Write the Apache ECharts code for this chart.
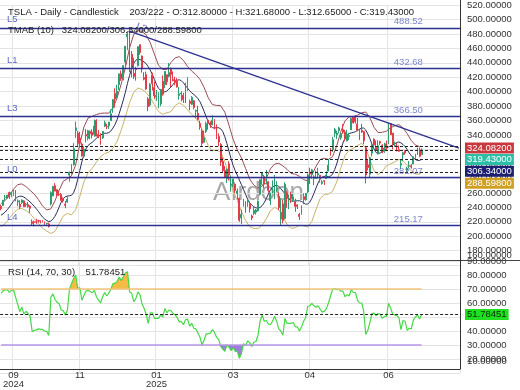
<!DOCTYPE html>
<html><head><meta charset="utf-8">
<script src="https://cdn.jsdelivr.net/npm/echarts@6/dist/echarts.min.js"></script>
<style>html,body{margin:0;padding:0;background:#fff}#c{width:520px;height:390px}</style>
</head><body><div id="c"></div>
<script>
const opens = [241.52,242.61,254.08,252.54,260.60,257.38,259.04,262.67,247.55,244.48,
246.69,249.00,243.56,243.82,241.81,220.13,220.13,220.01,221.40,221.59,
220.71,218.90,217.31,217.13,244.68,256.01,270.00,264.51,258.04,257.99,
252.04,244.56,247.34,284.67,288.89,299.14,346.30,342.74,335.85,327.69,
310.57,340.73,335.50,345.00,343.81,341.09,360.14,341.00,341.80,336.08,
352.38,351.80,353.00,359.87,377.42,397.61,392.68,409.70,424.84,420.00,
441.09,475.90,466.50,451.88,425.51,431.00,435.90,465.16,449.52,419.40,
423.79,390.10,381.48,423.20,405.83,392.95,391.40,383.21,414.34,409.90,
423.49,421.50,432.64,416.81,416.06,414.45,394.80,396.91,395.21,410.78,
401.53,386.68,382.63,387.51,373.03,370.19,356.21,345.80,329.94,345.00,
360.62,355.01,354.00,361.51,353.44,338.14,327.02,303.71,291.16,279.50,
300.34,270.93,272.92,272.06,259.32,252.54,225.31,247.22,248.13,247.31,
245.06,228.16,231.61,233.35,234.99,258.08,283.60,282.66,272.48,275.58,
249.31,263.80,254.60,265.29,255.38,223.78,245.00,224.69,260.00,251.84,
258.36,249.91,247.61,243.47,230.26,230.96,254.86,250.50,261.69,288.98,
285.50,279.90,280.01,284.90,284.57,273.11,276.88,279.63,290.21,321.99,
320.00,342.50,340.34,346.24,336.30,347.87,344.43,331.90,337.92,347.35,
364.84,365.29,355.52,343.50,346.60,345.10,322.49,298.83,285.96,314.94,
334.40,323.08,313.97,331.29,326.09,317.31,327.95,327.54,356.17,342.70,
324.61,324.51,319.90,298.46,312.63,317.99,291.37,297.00,297.55,300.05,
307.89,317.73,319.68,312.80];
const highs = [243.99,250.00,257.19,257.05,261.75,260.70,264.86,263.98,251.16,249.79,
250.96,249.83,246.21,247.43,242.79,223.34,221.91,224.26,222.82,222.08,
222.28,220.48,218.22,218.72,262.12,269.49,273.54,264.98,263.35,259.75,
254.00,248.90,255.28,289.59,299.75,328.71,358.64,345.84,344.60,329.98,
324.68,348.55,347.38,346.60,347.99,361.53,361.93,346.96,342.55,345.45,
360.00,355.69,358.10,375.43,389.49,404.80,409.73,424.88,429.30,436.30,
463.19,483.99,488.54,456.36,447.08,434.51,462.78,465.33,450.00,427.00,
427.93,392.73,411.88,426.43,414.33,402.50,399.28,403.79,422.64,428.15,
424.00,439.74,433.20,428.00,420.73,418.88,406.69,400.59,398.59,412.50,
419.99,389.17,394.00,388.39,375.40,380.55,360.00,349.37,346.40,358.69,
362.00,359.10,367.34,362.30,354.98,342.40,328.89,309.00,297.23,293.88,
303.94,284.35,279.55,272.65,266.25,253.37,237.06,251.84,248.29,251.58,
245.40,230.10,241.41,238.00,249.52,278.64,288.20,284.90,291.85,276.10,
260.56,277.45,284.99,276.30,261.00,252.00,250.44,274.69,262.49,257.74,
261.80,258.75,251.97,244.34,232.21,242.79,259.45,259.54,286.85,294.86,
293.32,284.45,290.87,294.78,284.85,277.73,277.92,289.80,307.04,322.21,
337.59,350.00,346.14,351.62,343.00,354.99,347.35,347.27,343.18,363.79,
365.00,367.71,363.68,348.02,355.40,345.60,324.55,305.50,309.83,327.83,
335.50,332.56,332.99,332.05,327.26,329.32,332.36,357.54,356.26,343.00,
331.05,329.34,325.58,305.89,316.83,318.45,296.15,304.05,300.15,310.48,
314.09,322.60,322.80,321.68];
const lows = [235.92,241.92,249.05,252.28,251.53,254.12,255.77,248.53,241.50,237.81,
244.58,240.70,240.56,239.51,232.34,214.38,213.74,217.12,218.93,217.90,
219.23,215.73,215.26,212.11,242.65,255.32,262.24,255.51,255.82,249.25,
246.63,238.88,246.21,275.62,285.52,297.66,336.00,323.31,322.50,310.37,
309.22,330.01,332.75,334.30,335.28,337.70,338.20,335.66,326.59,334.65,
351.15,348.20,348.60,359.50,370.80,378.01,390.85,402.38,415.00,415.71,
436.15,457.51,427.01,420.02,417.64,415.41,435.14,451.02,426.50,415.75,
402.54,373.04,379.45,401.70,390.00,387.40,377.29,380.07,394.54,405.21,
409.13,419.75,406.31,414.59,408.95,405.78,389.00,386.50,384.48,384.41,
401.34,374.36,381.40,375.53,363.18,360.34,347.50,325.10,329.12,342.85,
347.50,350.02,353.67,348.00,334.42,324.70,297.25,288.04,280.88,273.60,
277.30,261.84,267.71,260.02,250.73,220.00,217.02,241.10,232.60,240.73,
232.80,222.28,229.20,230.05,234.55,256.33,271.28,266.51,271.82,260.57,
243.36,259.25,251.27,261.51,236.00,214.25,217.80,223.88,239.33,237.57,
245.93,247.54,233.89,237.68,222.79,229.85,244.43,249.20,259.63,272.42,
279.47,270.78,279.81,279.81,274.40,271.35,271.00,279.41,290.00,311.50,
316.80,337.00,334.72,342.33,333.37,341.63,331.39,331.39,333.21,347.32,
355.91,356.00,345.29,333.33,343.04,327.33,273.21,291.14,281.85,310.67,
322.50,316.86,313.30,326.41,314.74,315.45,317.78,327.48,340.44,320.40,
323.61,317.50,316.60,293.21,303.82,312.76,288.77,294.35,293.55,300.00,
305.65,312.67,309.50,312.65];
const closes = [238.25,250.00,254.27,257.02,254.22,260.46,261.63,258.02,249.02,240.66,
250.08,240.83,244.50,241.05,238.77,217.80,219.16,219.57,221.33,220.89,
220.70,218.85,217.97,213.65,260.48,269.19,262.51,259.52,257.55,249.85,
248.98,242.84,251.44,288.53,296.91,321.22,350.00,328.49,330.24,311.18,
320.72,338.74,346.00,342.03,339.64,352.56,338.59,338.23,332.89,345.16,
357.09,351.42,357.93,369.49,389.22,389.79,400.99,424.77,418.10,436.23,
463.02,479.86,440.13,436.17,421.06,430.60,462.28,454.13,431.66,417.41,
403.84,379.28,410.44,411.05,394.36,394.94,394.74,403.31,396.36,428.22,
413.82,426.50,424.07,415.11,412.38,406.58,397.15,398.09,389.10,400.28,
404.60,383.68,392.21,378.17,374.32,361.62,350.73,328.50,336.51,355.94,
355.84,354.11,360.56,354.40,337.80,330.53,302.80,290.80,281.95,292.98,
284.65,272.04,279.10,263.45,262.67,222.15,230.58,248.09,240.68,249.98,
238.01,225.31,235.86,236.26,248.71,278.39,288.14,272.06,273.13,263.55,
259.16,268.46,282.76,267.28,239.43,233.29,221.86,272.20,252.40,252.31,
252.35,254.11,241.55,241.37,227.50,237.97,250.74,259.51,284.95,285.88,
292.03,282.16,280.52,287.21,280.26,275.35,276.22,284.82,298.26,318.38,
334.07,347.68,342.82,349.98,342.09,343.82,334.62,341.04,339.34,362.89,
356.90,358.43,346.46,342.69,344.27,332.05,284.70,295.14,308.58,326.09,
326.43,319.11,325.31,329.13,316.35,322.05,322.16,348.68,340.47,327.55,
325.78,323.63,317.66,300.71,315.65,315.35,293.94,297.81,295.88,309.87,
313.51,316.90,310.78,319.43];

const tmabMid = [229.2,231.1,233.5,236.8,240.5,244.5,248.6,252.1,254.4,255.3,
255.5,254.3,252.3,249.9,247.6,244.8,241.5,238.1,234.5,230.5,
226.7,224.0,221.9,220.4,220.9,223.6,227.7,233.2,240.2,247.1,
252.0,254.7,255.6,256.1,256.7,260.1,267.7,278.5,291.0,303.0,
313.3,320.9,325.6,328.0,330.1,332.8,335.4,338.2,340.1,341.7,
342.5,342.6,343.4,345.7,349.7,354.7,361.2,369.5,378.8,388.5,
399.1,411.3,422.3,431.7,438.9,443.5,445.1,444.5,443.2,441.3,
438.9,434.8,429.9,423.8,417.1,410.2,404.7,401.8,399.8,399.7,
400.9,403.6,406.4,410.0,413.7,415.9,416.6,415.3,412.4,408.5,
405.1,401.4,398.6,396.3,393.9,390.6,386.2,380.1,372.9,365.4,
358.6,353.3,350.2,349.8,350.1,350.2,348.8,345.0,337.7,328.3,
318.0,307.5,298.3,290.8,284.7,278.0,271.5,265.0,258.1,251.4,
246.3,243.1,240.8,239.4,238.7,239.8,242.4,246.4,252.1,258.4,
264.2,267.9,269.9,270.5,269.0,266.2,262.5,259.0,254.7,251.1,
248.9,248.6,248.9,249.1,249.1,248.2,246.5,244.4,244.7,247.3,
252.6,259.3,266.8,273.8,279.2,282.0,282.8,282.8,282.4,283.2,
286.1,292.1,300.1,309.8,319.9,329.1,335.8,340.1,342.1,343.1,
343.7,344.7,346.4,348.2,349.8,349.8,347.0,341.7,335.1,327.7,
320.8,315.9,314.4,315.3,316.9,319.1,321.5,323.6,325.1,326.3,
327.9,329.8,330.5,329.2,327.0,324.1,320.1,315.3,311.4,308.6,
306.2,304.9,305.0,306.34];

const bandIdx = [0,2,4,6,8,10,12,14,16,18,20,22,24,26,28,30,32,34,36,38,
40,42,44,46,48,50,52,54,56,58,60,62,64,66,68,70,72,74,76,78,
80,82,84,86,88,90,92,94,96,98,100,102,104,106,108,110,112,114,116,118,
120,122,124,126,128,130,132,134,136,138,140,142,144,146,148,150,152,154,156,158,
160,162,164,166,168,170,172,174,176,178,180,182,184,186,188,190,192,194,196,198,
200,202,203];
const tmabUpper = [245.2,249.5,256.5,265.1,271.4,272.5,268.8,263.6,258.5,251.0,
242.2,236.4,237.9,248.7,263.2,276.0,279.6,283.7,298.7,327.0,
351.3,363.6,366.1,368.4,370.1,370.5,370.4,377.7,391.2,410.8,
433.1,460.3,478.9,485.1,483.2,478.9,467.9,452.1,436.7,430.8,
430.9,440.4,446.7,448.6,443.4,435.1,428.6,423.9,417.2,405.9,
391.6,382.2,381.1,380.8,371.7,354.0,334.3,319.7,308.5,294.1,
279.3,270.8,266.7,269.4,280.1,293.2,299.9,301.0,297.5,292.7,
286.9,285.9,283.1,278.5,276.7,284.6,296.8,306.2,307.8,306.4,
310.1,325.1,344.9,359.8,365.1,365.7,367.4,370.8,372.0,364.1,
350.8,343.4,343.9,345.5,350.1,352.9,354.5,350.0,342.1,332.4,
326.2,324.0,324.082];
const tmabLower = [213.2,217.5,224.5,232.1,237.4,238.5,235.8,231.6,224.5,218.0,
211.2,207.4,203.9,206.7,217.2,228.0,231.6,229.7,236.7,255.0,
275.3,287.6,294.1,302.4,310.1,314.5,316.4,321.7,331.2,346.8,
365.1,384.3,398.9,405.1,403.2,398.9,391.9,382.1,372.7,368.8,
370.9,372.4,380.7,384.6,381.4,375.1,368.6,363.9,355.2,339.9,
325.6,318.2,319.1,316.8,303.7,282.0,262.3,249.7,234.5,222.1,
213.3,210.8,210.7,215.4,224.1,235.2,239.9,237.0,227.5,216.7,
210.9,211.9,215.1,214.5,212.7,220.6,236.8,252.2,257.8,258.4,
262.1,275.1,294.9,311.8,319.1,321.7,325.4,328.8,322.0,306.1,
290.8,285.4,289.9,297.5,300.1,302.9,306.5,304.0,298.1,290.4,
286.2,286.0,288.598];

const rsi = [66.9,68.8,69.3,69.5,67.5,69.0,69.3,64.0,59.0,53.8,
57.0,52.0,54.0,52.5,50.5,39.5,40.5,40.8,41.5,41.2,
41.1,40.0,39.6,36.9,64.0,66.5,62.5,60.5,59.5,55.0,
54.5,51.4,55.0,70.0,74.0,77.5,80.0,70.5,70.8,62.0,
65.5,68.5,69.0,68.2,67.3,69.0,64.5,62.0,60.0,64.5,
67.5,65.0,67.0,70.0,74.0,74.0,75.5,78.5,76.0,78.8,
81.5,82.4,68.0,67.0,61.0,63.0,68.0,66.0,59.5,56.2,
52.0,45.5,53.0,53.0,49.0,49.0,49.0,51.5,50.0,56.0,
53.0,55.0,54.5,52.5,51.5,49.5,46.5,46.8,44.5,48.0,
48.5,43.5,45.5,42.0,41.5,38.5,35.5,30.0,33.5,38.0,
38.0,38.5,41.0,39.0,35.5,34.0,29.0,27.0,25.5,30.0,
28.5,26.0,28.0,25.5,25.5,20.5,24.0,31.0,29.5,33.0,
31.5,29.0,32.0,32.5,37.0,47.0,51.5,47.0,47.5,45.0,
44.5,47.0,50.5,47.0,41.5,40.0,37.0,49.0,45.5,45.5,
45.5,46.0,43.0,43.0,40.0,43.0,47.0,49.5,57.5,58.0,
59.8,58.0,57.0,58.0,55.5,53.5,54.0,56.0,60.0,65.0,
69.8,70.3,69.5,69.9,68.5,68.5,64.5,66.0,65.0,69.6,
67.5,67.5,62.0,60.0,60.0,54.5,37.5,40.5,46.0,52.5,
52.8,51.0,52.5,52.0,49.0,50.5,50.5,59.8,56.5,52.0,
51.5,51.0,49.5,41.0,47.5,47.0,40.5,42.0,41.5,48.0,
50.0,51.5,48.5,51.78451];

const tickIdx = [6, 38, 75, 112, 149, 187];
const tickLabels = ['09\n2024', '11', '01\n2025', '03', '04', '06'];
const levelNames = ['L5', 'L1', 'L3', 'L0', 'L4'];
const levelValues = [488.52, 432.68, 366.50, 282.07, 215.17];
const trendName = 'L2';
const trendStart = [62, 484];
const trendEnd = [221, 322];
const tmabLast = [324.082, 306.34, 288.598];
const lastClose = 319.43;
const rsiLast = 51.78451;
const rsiBands = [70, 30];
const totalSlots = 222;
const priceRange = [160, 520, 20];
const rsiRange = [10, 90, 10];

const FONT = '"Liberation Sans", Arial, sans-serif';
const categories = Array.from({length: totalSlots}, (_, i) => String(i));
const candleData = opens.map((o, i) => [o, closes[i], lows[i], highs[i]]);
const isTick = (i) => tickIdx.indexOf(i) >= 0;
const GRID_C = '#e4e4e4';
const LEVEL_C = '#2d3192';
const LEVEL_TXT = '#5b68c4';
const LBL = {fontSize: 9.5, color: '#333', fontFamily: FONT};

const chart = echarts.init(document.getElementById('c'), null, {renderer: 'canvas'});

// value tags, pushed apart so they do not overlap (as in the reference)
const lastLines = [
  {v: tmabLast[0], bg: '#c9383f', fg: '#fff', dy: 1.4},
  {v: lastClose, bg: '#2dbfa6', fg: '#fff', dy: 9.6},
  {v: tmabLast[1], bg: '#1d2070', fg: '#fff', dy: 11.7},
  {v: tmabLast[2], bg: '#cf9f22', fg: '#fff', dy: 11}
];

const mainMarkData = [];
levelValues.forEach((v, k) => {
  mainMarkData.push({
    yAxis: v, name: levelNames[k],
    lineStyle: {color: LEVEL_C, width: 1.3, type: 'solid'},
    label: {show: true, position: 'insideStartTop', formatter: '{b}', color: LEVEL_TXT,
            fontSize: 9.5, fontFamily: FONT, distance: [7, 3]}
  });
});
mainMarkData.push([
  {coord: [trendStart[0], trendStart[1]], name: trendName,
   lineStyle: {color: LEVEL_C, width: 1.3, type: 'solid'},
   label: {show: true, position: 'insideStartTop', formatter: '{b}', color: LEVEL_TXT,
           fontSize: 9.5, fontFamily: FONT, distance: [5, 2]}},
  {coord: [trendEnd[0], trendEnd[1]]}
]);
lastLines.forEach(d => {
  mainMarkData.push({
    yAxis: d.v,
    lineStyle: {color: '#222', width: 1.2, type: [3, 2]},
    label: {show: true, position: 'end', distance: 5, formatter: d.v.toFixed(5), offset: [0, d.dy],
            backgroundColor: d.bg, color: d.fg, padding: [1, 2, 0, 2],
            fontSize: 9.5, fontFamily: FONT}
  });
});

// extra axes that only carry the bottom (clamped) tick label of each pane
function bottomLabelAxis(grid, range, pad) {
  return {type: 'value', gridIndex: grid, position: 'left', offset: -460,
          min: range[0], max: range[1], interval: range[2],
          axisLine: {show: false}, axisTick: {show: false}, splitLine: {show: false},
          axisLabel: Object.assign({inside: true, margin: 7, showMinLabel: true, hideOverlap: false,
            formatter: (v) => v === range[0] ? '{lo|' + v.toFixed(5) + '}' : '',
            rich: {lo: Object.assign({padding: [0, 0, pad, 0]}, LBL)}}, LBL)};
}

const option = {
  animation: false,
  backgroundColor: '#fff',
  grid: [
    {left: 0, right: 60, top: 2, height: 263.2},
    {left: 0, right: 60, top: 261, height: 112}
  ],
  xAxis: [
    {type: 'category', gridIndex: 0, data: categories, boundaryGap: true,
     axisLine: {show: false}, axisTick: {show: false}, axisLabel: {show: false},
     splitLine: {show: true, interval: (i) => isTick(i), lineStyle: {color: GRID_C}}},
    {type: 'category', gridIndex: 1, data: categories, boundaryGap: true, offset: -4,
     axisLine: {show: true, lineStyle: {color: '#333', width: 1}},
     axisTick: {show: false},
     axisLabel: Object.assign({show: true, interval: (i) => isTick(i), margin: 2, lineHeight: 9,
                 formatter: (v) => { const k = tickIdx.indexOf(Number(v)); return k >= 0 ? tickLabels[k] : ''; }}, LBL),
     splitLine: {show: true, interval: (i) => isTick(i), lineStyle: {color: GRID_C}}}
  ],
  yAxis: [
    {type: 'value', gridIndex: 0, position: 'right', min: priceRange[0], max: priceRange[1], interval: priceRange[2],
     axisLine: {show: false}, axisTick: {show: false},
     axisLabel: Object.assign({margin: 7, showMinLabel: false, showMaxLabel: true,
                 formatter: (v) => v.toFixed(5)}, LBL),
     splitLine: {show: true, lineStyle: {color: GRID_C}}},
    {type: 'value', gridIndex: 1, position: 'right', min: rsiRange[0], max: rsiRange[1], interval: rsiRange[2],
     axisLine: {show: false}, axisTick: {show: false},
     axisLabel: Object.assign({margin: 7, showMinLabel: false, showMaxLabel: true,
                 formatter: (v) => v.toFixed(5)}, LBL),
     splitLine: {show: true, lineStyle: {color: GRID_C}}},
    bottomLabelAxis(0, priceRange, 19),
    bottomLabelAxis(1, rsiRange, 24)
  ],
  series: [
    {type: 'line', name: 'upper', xAxisIndex: 0, yAxisIndex: 0,
     data: bandIdx.map((i, k) => [i, tmabUpper[k]]), showSymbol: false, symbol: 'none',
     lineStyle: {color: '#9c4b57', width: 1}, z: 3},
    {type: 'line', name: 'lower', xAxisIndex: 0, yAxisIndex: 0,
     data: bandIdx.map((i, k) => [i, tmabLower[k]]), showSymbol: false, symbol: 'none',
     lineStyle: {color: '#c9b46c', width: 1}, z: 3},
    {type: 'line', name: 'mid', xAxisIndex: 0, yAxisIndex: 0,
     data: tmabMid, showSymbol: false, symbol: 'none',
     lineStyle: {color: '#2a2d5c', width: 1}, z: 3},
    {type: 'candlestick', name: 'TSLA', xAxisIndex: 0, yAxisIndex: 0,
     data: candleData, barWidth: 1.4, clip: false, z: 4,
     itemStyle: {color: '#2e9d6f', color0: '#e23c48', borderColor: '#2e9d6f', borderColor0: '#e23c48', borderWidth: 1},
     markLine: {silent: true, symbol: ['none', 'none'], animation: false, data: mainMarkData}},
    {type: 'scatter', name: 'levelText', xAxisIndex: 0, yAxisIndex: 0,
     data: levelValues.map(v => [206, v]), symbolSize: 0, silent: true, z: 5,
     label: {show: true, position: 'left', distance: 5, offset: [0, -6],
             formatter: (p) => p.value[1].toFixed(2), color: LEVEL_TXT, fontSize: 9.5, fontFamily: FONT}},
    {type: 'line', name: 'rsiOB', xAxisIndex: 1, yAxisIndex: 1,
     data: rsi.map(v => Math.max(v, rsiBands[0])), symbol: 'none', showSymbol: false,
     lineStyle: {width: 0, opacity: 0}, areaStyle: {color: '#f6bb45', opacity: 1, origin: rsiBands[0]}, z: 2},
    {type: 'line', name: 'rsiOS', xAxisIndex: 1, yAxisIndex: 1,
     data: rsi.map(v => Math.min(v, rsiBands[1])), symbol: 'none', showSymbol: false,
     lineStyle: {width: 0, opacity: 0}, areaStyle: {color: '#9b7fd9', opacity: 1, origin: rsiBands[1]}, z: 2},
    {type: 'line', name: 'RSI', xAxisIndex: 1, yAxisIndex: 1,
     data: rsi, symbol: 'none', showSymbol: false, clip: false,
     lineStyle: {color: '#45d945', width: 1.2}, z: 4,
     markLine: {silent: true, symbol: ['none', 'none'], animation: false, data: [
       [{coord: [0, rsiBands[0]], lineStyle: {color: '#f3c57a', width: 1.5, type: 'solid'}, label: {show: false}},
        {coord: [rsi.length - 1, rsiBands[0]]}],
       [{coord: [0, rsiBands[1]], lineStyle: {color: '#b996e6', width: 1.5, type: 'solid'}, label: {show: false}},
        {coord: [rsi.length - 1, rsiBands[1]]}],
       {yAxis: rsiLast, lineStyle: {color: '#222', width: 1.2, type: [3, 2]},
        label: {show: true, position: 'end', distance: 5, formatter: rsiLast.toFixed(5),
                backgroundColor: '#1fe01f', color: '#0b2a0b', padding: [1, 2, 0, 2], fontSize: 9.5, fontFamily: FONT}}
     ]}}
  ],
  graphic: [
    {type: 'text', left: 213, top: 180, z: -1, silent: true,
     style: {text: 'AIrdoon', font: '26px ' + FONT, fill: 'rgba(110,110,110,0.6)'}},
    {type: 'line', z: 50, silent: true, shape: {x1: 0, y1: 260.5, x2: 520, y2: 260.5}, style: {stroke: '#444', lineWidth: 1}},
    {type: 'line', z: 50, silent: true, shape: {x1: 460.5, y1: 0, x2: 460.5, y2: 369}, style: {stroke: '#333', lineWidth: 1}},
    {type: 'text', left: 8, top: 7, z: 100, silent: true,
     style: {text: 'TSLA - Daily - Candlestick    203/222 - O:' + opens[opens.length-1].toFixed(5) +
                   ' - H:' + highs[highs.length-1].toFixed(5) + ' - L:' + lows[lows.length-1].toFixed(5) +
                   ' - C:' + lastClose.toFixed(5),
             font: '9.5px ' + FONT, fill: '#222'}},
    {type: 'text', left: 8, top: 25, z: 100, silent: true,
     style: {text: 'TMAB (10)   ' + tmabLast.map(v => v.toFixed(5)).join('/'), font: '9.5px ' + FONT, fill: '#222'}},
    {type: 'text', left: 8, top: 267.5, z: 100, silent: true,
     style: {text: 'RSI (14, 70, 30)    ' + rsiLast.toFixed(5), font: '9.5px ' + FONT, fill: '#222'}}
  ]
};
chart.setOption(option);
</script>
</body></html>
